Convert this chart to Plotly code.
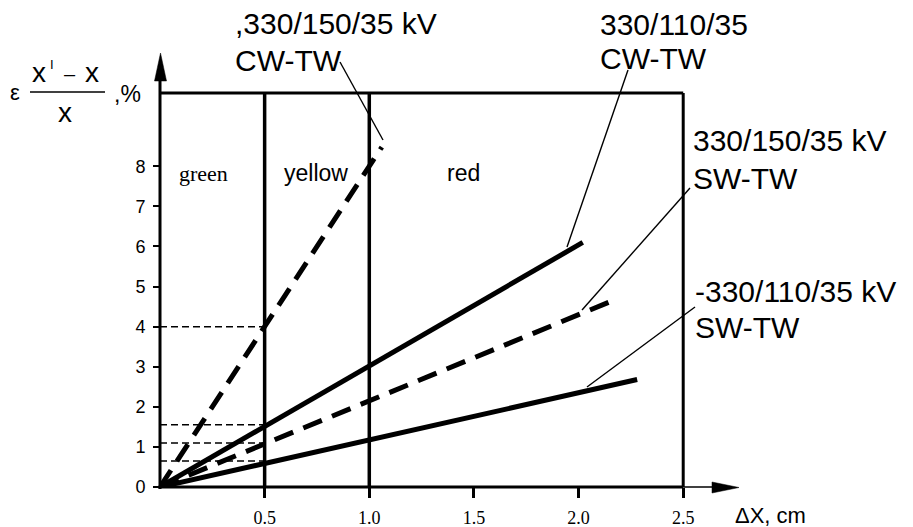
import plotly.graph_objects as go

# ---------------- data ----------------
series_names = ["330/150/35 kV CW-TW", "330/110/35 CW-TW",
                "330/150/35 kV SW-TW", "-330/110/35 kV SW-TW"]
series_dx = [[0, 1.06], [0, 2.02], [0, 2.15], [0, 2.28]]      # ΔX, cm
series_err = [[0, 8.48], [0, 6.10], [0, 4.62], [0, 2.68]]     # error, %
series_dash = ["20px,11px", "solid", "20px,11px", "solid"]

zone_edges = [0.0, 0.5, 1.0, 2.5]
zone_labels = ["green", "yellow", "red"]
box_top = 9.83
ref_levels = [4.0, 1.55, 1.1, 0.65]

x_tick_vals = [0.5, 1.0, 1.5, 2.0, 2.5]
x_tick_text = ["0.5", "1.0", "1.5", "2.0", "2.5"]
y_tick_vals = [0, 1, 2, 3, 4, 5, 6, 7, 8]
y_tick_text = ["0", "1", "2", "3", "4", "5", "6", "7", "8"]

# ---------------- layout geometry ----------------
# the page body keeps the browser's default 8px margin, so the figure
# is placed 8px right/down; all screen positions account for that offset
OFF = 8
W, H = 913, 527
ML, MR, MT, MB = 160 - OFF, 167 + OFF, 46 - OFF, 40 + OFF
X_RANGE = [0, 2.8]
Y_RANGE = [0, 11.0]
PW = W - ML - MR
PH = H - MT - MB
BOTTOM = H - MB + OFF  # screen y of the x axis

SANS = "Liberation Sans, Arial, sans-serif"
SERIF = "Liberation Serif, Times New Roman, serif"


def xp(px):
    """screen x -> paper x"""
    return (px - OFF - ML) / PW


def yp(py):
    """screen y -> paper y"""
    return (BOTTOM - py) / PH


def dxp(x):
    return (x - X_RANGE[0]) / (X_RANGE[1] - X_RANGE[0])


fig = go.Figure()

for name, xs, ys, dash in zip(series_names, series_dx, series_err, series_dash):
    fig.add_trace(go.Scatter(x=xs, y=ys, mode="lines", name=name,
                             line=dict(color="black", width=5, dash=dash),
                             showlegend=False, hoverinfo="skip"))

shapes = []
for lv in ref_levels:
    shapes.append(dict(type="line", xref="x", yref="y", x0=0, x1=zone_edges[1],
                       y0=lv, y1=lv, line=dict(color="black", width=1.5, dash="7px,4px")))
for xe in zone_edges[1:3]:
    shapes.append(dict(type="line", xref="x", yref="y", x0=xe, x1=xe, y0=0, y1=box_top,
                       line=dict(color="black", width=3.5)))
shapes.append(dict(type="line", xref="x", yref="y", x0=zone_edges[-1], x1=zone_edges[-1],
                   y0=0, y1=box_top, line=dict(color="black", width=3)))
shapes.append(dict(type="line", xref="x", yref="y", x0=0, x1=zone_edges[-1],
                   y0=box_top, y1=box_top, line=dict(color="black", width=3)))

# axes
shapes.append(dict(type="line", xref="paper", yref="paper", x0=0, x1=0,
                   y0=yp(489), y1=yp(80), line=dict(color="black", width=3)))
shapes.append(dict(type="line", xref="paper", yref="paper", x0=xp(158.5), x1=dxp(zone_edges[-1]),
                   y0=0, y1=0, line=dict(color="black", width=3)))
shapes.append(dict(type="line", xref="paper", yref="paper", x0=dxp(zone_edges[-1]), x1=xp(715),
                   y0=0, y1=0, line=dict(color="black", width=1.5)))
shapes.append(dict(type="path", xref="paper", yref="paper",
                   path=f"M {xp(160.5)},{yp(53)} L {xp(154.5)},{yp(81)} L {xp(166.5)},{yp(81)} Z",
                   fillcolor="black", line=dict(color="black", width=0.5)))
shapes.append(dict(type="path", xref="paper", yref="paper",
                   path=f"M {xp(739)},{yp(487.5)} L {xp(712)},{yp(482)} L {xp(712)},{yp(493)} Z",
                   fillcolor="black", line=dict(color="black", width=0.5)))

# leader lines
leaders = [((340, 62), (383, 140)), ((628, 70), (567, 247)),
           ((690, 188), (582, 310)), ((695, 307), (587, 387))]
for (a, b) in leaders:
    shapes.append(dict(type="line", xref="paper", yref="paper",
                       x0=xp(a[0]), y0=yp(a[1]), x1=xp(b[0]), y1=yp(b[1]),
                       line=dict(color="black", width=1.4)))

# fraction bar
shapes.append(dict(type="line", xref="paper", yref="paper", x0=xp(30), x1=xp(105),
                   y0=yp(92), y1=yp(92), line=dict(color="black", width=1.5)))

annotations = []


def ann(text, px, py, size, family=SANS, xanchor="center"):
    annotations.append(dict(text=text, x=xp(px), y=yp(py), xref="paper", yref="paper",
                            showarrow=False, xanchor=xanchor, yanchor="middle",
                            font=dict(family=family, size=size, color="black")))


ann("ε", 15, 93, 22)
ann("x", 39, 73, 28)
ann("I", 52, 64, 13)
ann("–", 70, 74, 20)
ann("x", 92, 73, 28)
ann("x", 65, 112, 28)
ann(",%", 127, 94, 23)

ann("ΔX, cm", 770, 515, 22)

zone_fonts = [SERIF, SANS, SANS]
zone_px = [203, 316, 463]
for lab, fam, px in zip(zone_labels, zone_fonts, zone_px):
    ann(lab, px, 173, 23 if fam == SANS else 22, fam)

ann(",330/150/35 kV", 233, 23, 30, xanchor="left")
ann("CW-TW", 233, 60, 30, xanchor="left")
ann("330/110/35", 598, 25, 30, xanchor="left")
ann("CW-TW", 598, 58, 30, xanchor="left")
ann("330/150/35 kV", 691, 140, 30, xanchor="left")
ann("SW-TW", 691, 178, 30, xanchor="left")
ann("-330/110/35 kV", 693, 291, 30, xanchor="left")
ann("SW-TW", 693, 327, 30, xanchor="left")

fig.update_layout(
    width=W, height=H,
    margin=dict(l=ML, r=MR, t=MT, b=MB, pad=0, autoexpand=False),
    paper_bgcolor="white", plot_bgcolor="white",
    shapes=shapes, annotations=annotations,
    xaxis=dict(range=X_RANGE, showgrid=False, zeroline=False, showline=False,
               automargin=False,
               tickmode="array", tickvals=x_tick_vals, ticktext=x_tick_text,
               ticks="outside", ticklen=10, tickwidth=3, tickcolor="black",
               tickfont=dict(family=SERIF, size=18, color="black"),
               ticklabelstandoff=4, fixedrange=True),
    yaxis=dict(range=Y_RANGE, showgrid=False, zeroline=False, showline=False,
               automargin=False,
               tickmode="array", tickvals=y_tick_vals, ticktext=y_tick_text,
               ticks="outside", ticklen=6, tickwidth=2, tickcolor="black",
               tickfont=dict(family=SANS, size=18, color="black"),
               ticklabelstandoff=4, fixedrange=True),
    showlegend=False,
)

fig.write_html("out.html", config={"displayModeBar": False})
